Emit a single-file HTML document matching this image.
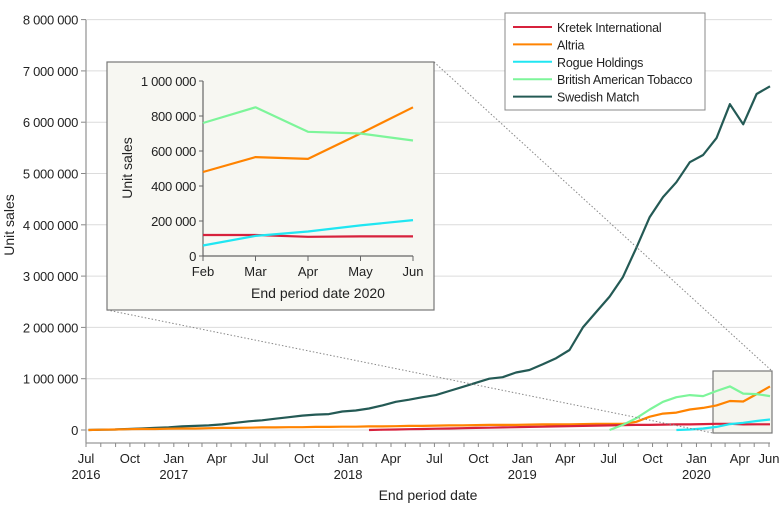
<!DOCTYPE html>
<html><head><meta charset="utf-8">
<style>
html,body{margin:0;padding:0;background:#fff;}
svg{display:block;font-family:"Liberation Sans",sans-serif;}
text{fill:#222;}
</style></head>
<body>
<svg id="chart" width="783" height="514" viewBox="0 0 783 514" xmlns="http://www.w3.org/2000/svg"></svg>
<script>
const seriesNames = ["Kretek International","Altria","Rogue Holdings","British American Tobacco","Swedish Match"];
const seriesColors = ["#d7213c","#ff8300","#20e6f2","#7df59a","#245a55"];
const yTicks = [0,1000000,2000000,3000000,4000000,5000000,6000000,7000000,8000000];
const yTickLabels = ["0","1 000 000","2 000 000","3 000 000","4 000 000","5 000 000","6 000 000","7 000 000","8 000 000"];
const monthLabels = ["Jul","Oct","Jan","Apr"];
const yearLabels = ["2016","2017","2018","2019","2020"];
// values in millions, 4-week periods, oldest first (52 periods)
const swedishMatch = [0,0.005,0.01,0.02,0.03,0.04,0.05,0.07,0.08,0.09,0.11,0.14,0.17,0.19,0.22,0.25,0.28,0.30,0.31,0.36,0.38,0.42,0.48,0.55,0.59,0.64,0.68,0.76,0.84,0.92,1.0,1.03,1.12,1.17,1.28,1.40,1.56,2.0,2.3,2.6,2.98,3.55,4.15,4.54,4.83,5.22,5.36,5.69,6.35,5.96,6.55,6.7];
const altria = [0,0.005,0.01,0.015,0.02,0.02,0.025,0.03,0.03,0.035,0.04,0.04,0.045,0.05,0.05,0.055,0.055,0.06,0.06,0.065,0.065,0.07,0.07,0.075,0.08,0.08,0.085,0.09,0.09,0.095,0.1,0.1,0.1,0.105,0.11,0.11,0.11,0.115,0.12,0.12,0.12,0.16,0.26,0.32,0.34,0.40,0.43,0.48,0.565,0.555,0.70,0.85];
const kretek = [null,null,null,null,null,null,null,null,null,null,null,null,null,null,null,null,null,null,null,null,null,0,0.005,0.01,0.015,0.02,0.025,0.03,0.035,0.04,0.045,0.05,0.055,0.06,0.065,0.07,0.075,0.08,0.085,0.09,0.095,0.1,0.1,0.105,0.11,0.11,0.115,0.12,0.12,0.11,0.112,0.112];
const bat = [null,null,null,null,null,null,null,null,null,null,null,null,null,null,null,null,null,null,null,null,null,null,null,null,null,null,null,null,null,null,null,null,null,null,null,null,null,null,null,0,0.1,0.23,0.40,0.55,0.64,0.68,0.66,0.76,0.85,0.71,0.70,0.66];
const rogue = [null,null,null,null,null,null,null,null,null,null,null,null,null,null,null,null,null,null,null,null,null,null,null,null,null,null,null,null,null,null,null,null,null,null,null,null,null,null,null,null,null,null,null,null,0,0.01,0.03,0.06,0.115,0.14,0.175,0.205];
const insetMonths = ["Feb","Mar","Apr","May","Jun"];
const insetYTicks = [0,200000,400000,600000,800000,1000000];
const insetYTickLabels = ["0","200 000","400 000","600 000","800 000","1 000 000"];

const NS="http://www.w3.org/2000/svg";
const svg=document.getElementById('chart');
function el(tag,attrs,parent,txt){const e=document.createElementNS(NS,tag);for(const k in attrs)e.setAttribute(k,attrs[k]);if(txt!==undefined)e.textContent=txt;(parent||svg).appendChild(e);return e;}

const X0=86, X1=769, DAYS=1431;
const xDay=d=>X0+(d/DAYS)*(X1-X0);
const yMain=v=>430-v*51.3/1000000;
const startDay=5, step=28;
const periodX=i=>xDay(startDay+step*i);

yTicks.forEach((v,i)=>{
  const g=el('line',{x1:X0,x2:772,y1:yMain(v),y2:yMain(v),stroke:'#dcdcdc','stroke-width':1});
  
  
  el('line',{x1:81,x2:X0,y1:yMain(v),y2:yMain(v),stroke:'#888','stroke-width':1});
  const t=el('text',{x:78,y:yMain(v)+5,'text-anchor':'end','font-size':13,'letter-spacing':'-0.3'},svg,yTickLabels[i]);
  
  
});
const ya=el('line',{x1:X0,x2:X0,y1:20,y2:443,stroke:'#999','stroke-width':1.3});

const xa=el('line',{x1:X0,x2:770,y1:443,y2:443,stroke:'#999','stroke-width':1.3});

const monthDays=[];let d=0;
for(let m=0;m<48;m++){monthDays.push(d);const mm=(6+m)%12;const yr=2016+Math.floor((6+m)/12);let len=[31,28,31,30,31,30,31,31,30,31,30,31][mm];if(mm===1&&yr%4===0)len=29;d+=len;}
monthDays.forEach((md,m)=>{
  const x=xDay(md);
  el('line',{x1:x,x2:x,y1:443,y2:447,stroke:'#888','stroke-width':1});
  if(m%3===0){
    const t=el('text',{x:x,y:463,'text-anchor':'middle','font-size':13},svg,monthLabels[(m/3)%4]);
    
  }
  const mm=(6+m)%12;
  if(m===0||mm===0){
    const t2=el('text',{x:x,y:479,'text-anchor':'middle','font-size':13},svg,yearLabels[Math.floor((6+m)/12)]);
    
  }
});
const xJun=xDay(1431);
el('line',{x1:xJun,x2:xJun,y1:443,y2:447,stroke:'#888'});
const tj=el('text',{x:xJun,y:463,'text-anchor':'middle','font-size':13},svg,"Jun");


const xt=el('text',{x:428,y:500,'text-anchor':'middle','font-size':14},svg,"End period date");

const yt=el('text',{x:0,y:0,'text-anchor':'middle','font-size':14,transform:'translate(14,225) rotate(-90)'},svg,"Unit sales");


const zb=el('rect',{x:713,y:371,width:59,height:62,fill:'#f5f5ef',stroke:'#777','stroke-width':1.2});


const allSeries=[swedishMatch,altria,kretek,bat,rogue];
const colorIdx=[4,1,0,3,2];
function pathFor(vals,xf,yf){let p='';let started=false;for(let i=0;i<vals.length;i++){const v=vals[i];if(v===null){started=false;continue;}const px=xf(i),py=yf(v*1000000);p+=(started?'L':'M')+px.toFixed(1)+' '+py.toFixed(1);started=true;}return p;}
const lineNames=['swedish-match-line','altria-line','kretek-line','bat-line','rogue-line'];
allSeries.forEach((s,k)=>{
  const p=el('path',{d:pathFor(s,periodX,yMain),fill:'none',stroke:seriesColors[colorIdx[k]],'stroke-width':2.2,'stroke-linejoin':'round'});
  
  
});

el('line',{x1:107,y1:310,x2:713,y2:433,stroke:'#888','stroke-width':1,'stroke-dasharray':'1.5,2'});
el('line',{x1:434,y1:62,x2:772,y2:371,stroke:'#888','stroke-width':1,'stroke-dasharray':'1.5,2'});

const ib=el('rect',{x:107,y:62,width:327,height:248,fill:'#f7f7f2',stroke:'#777','stroke-width':1.2});

const IX0=203,IX1=413;
const ix=i=>IX0+(i)*(IX1-IX0)/4;
const iy=v=>256-v*175/1000000;
insetYTicks.forEach((v,i)=>{
  el('line',{x1:199,x2:IX0,y1:iy(v),y2:iy(v),stroke:'#666'});
  const t=el('text',{x:196,y:iy(v)+5,'text-anchor':'end','font-size':13,'letter-spacing':'-0.3'},svg,insetYTickLabels[i]);
  
});
el('line',{x1:IX0,x2:IX0,y1:81,y2:256,stroke:'#666','stroke-width':1.2});
el('line',{x1:IX0,x2:IX1,y1:256,y2:256,stroke:'#666','stroke-width':1.2});
insetMonths.forEach((m,i)=>{
  el('line',{x1:ix(i),x2:ix(i),y1:256,y2:261,stroke:'#666'});
  const t=el('text',{x:ix(i),y:276,'text-anchor':'middle','font-size':13},svg,m);
  
});
const it=el('text',{x:318,y:298,'text-anchor':'middle','font-size':14},svg,"End period date 2020");

const iyt=el('text',{x:0,y:0,'text-anchor':'middle','font-size':14,transform:'translate(132,168) rotate(-90)'},svg,"Unit sales");

const insetStart=swedishMatch.length-insetMonths.length;
[altria,kretek,bat,rogue].forEach((s,k)=>{
  const sub=s.slice(insetStart);
  const p=el('path',{d:pathFor(sub,ix,iy),fill:'none',stroke:seriesColors[[1,0,3,2][k]],'stroke-width':2.2,'stroke-linejoin':'round'});
  
  
});

const lg=el('g',{});

el('rect',{x:505,y:13,width:200,height:97,fill:'#fff',stroke:'#888','stroke-width':1},lg);
seriesNames.forEach((n,i)=>{
  const y=27+i*17.4;
  const g=el('g',{},lg);
  
  
  el('line',{x1:513,x2:552,y1:y,y2:y,stroke:seriesColors[i],'stroke-width':2},g);
  el('text',{x:557,y:y+5,'font-size':12.5,'letter-spacing':'-0.2'},g,n);
});
</script>
</body></html>
